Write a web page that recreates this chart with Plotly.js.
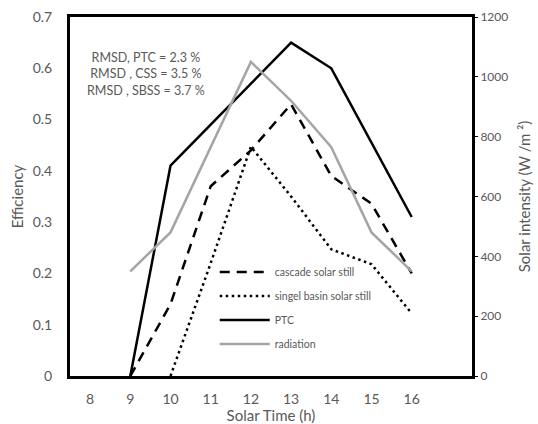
<!DOCTYPE html>
<html>
<head>
<meta charset="utf-8">
<script src="https://cdn.plot.ly/plotly-3.0.1.min.js"></script>
<style>html,body{margin:0;padding:0;background:#fff}#chart{width:538px;height:424px}</style>
</head>
<body>
<div id="chart"></div>
<script>
// Data
const hoursAll = [8, 9, 10, 11, 12, 13, 14, 15, 16];
const hours = [9, 10, 11, 12, 13, 14, 15, 16];
const cascadeEff = [0, 0.14, 0.37, 0.44, 0.53, 0.39, 0.336, 0.20];
const singelHours = [10, 11, 12, 13, 14, 15, 16];
const singelEff = [0, 0.22, 0.447, 0.35, 0.247, 0.218, 0.122];
const ptcEff = [0, 0.41, 0.49, 0.57, 0.65, 0.60, 0.455, 0.31];
const radiation = [350, 480, 765, 1050, 920, 765, 480, 350];
const rmsdLines = ["RMSD, PTC = 2.3 %", "RMSD , CSS = 3.5 %", "RMSD , SBSS = 3.7 %"];

const FONT = "Lato, 'Open Sans', sans-serif";
const GREY = "#595959";

const traces = [
  {x: hours, y: cascadeEff, name: "cascade solar still", mode: "lines", legendgroup: "a",
   line: {color: "#000", width: 2.5, dash: "10px,7px"}},
  {x: singelHours, y: singelEff, name: "singel basin solar still", mode: "lines", legendgroup: "b",
   line: {color: "#000", width: 2.5, dash: "2.5px,3.5px"}},
  {x: hours, y: ptcEff, name: "PTC", mode: "lines", legendgroup: "c",
   line: {color: "#000", width: 2.5}},
  {x: hours, y: radiation, name: "radiation", mode: "lines", yaxis: "y2", legendgroup: "d",
   line: {color: "#a5a5a5", width: 2.5}}
];

const layout = {
  width: 538, height: 424,
  margin: {l: 70, r: 66, t: 17, b: 48},
  paper_bgcolor: "#fff", plot_bgcolor: "#fff",
  font: {family: FONT, color: GREY, size: 13},
  showlegend: true,
  legend: {x: 0.36, y: 0.33, xanchor: "left", yanchor: "top", bgcolor: "rgba(0,0,0,0)",
           font: {size: 10.5, color: GREY}, tracegroupgap: 5, itemwidth: 50},
  xaxis: {range: [7.5, 17.5], tickvals: hoursAll, ticktext: hoursAll.map(String),
          showgrid: false, zeroline: false, showline: true, linecolor: "#000", linewidth: 3,
          mirror: true, ticks: "", ticklabelstandoff: 8, tickfont: {size: 14, color: GREY},
          title: {text: "Solar Time (h)", font: {size: 15, color: GREY}, standoff: 0}},
  yaxis: {range: [0, 0.7], dtick: 0.1, tick0: 0, showgrid: false, zeroline: false,
          showline: true, linecolor: "#000", linewidth: 3, mirror: true, ticks: "",
          ticklabelstandoff: 12, tickfont: {size: 14, color: GREY},
          title: {text: "Efficiency", font: {size: 15, color: GREY}, standoff: 6}},
  yaxis2: {overlaying: "y", side: "right", range: [0, 1200], dtick: 200, tick0: 0,
           showgrid: false, zeroline: false, showline: false, ticks: "outside", ticklen: 5,
           tickcolor: "#000", tickwidth: 1, tickfont: {size: 12, color: GREY},
           title: {text: "Solar intensity (W /m ²)", font: {size: 15, color: GREY}, standoff: 12}},
  annotations: [{xref: "paper", yref: "paper", x: 0.19, y: 0.913, xanchor: "center", yanchor: "top",
                 text: rmsdLines.join("<br>"), showarrow: false, align: "center",
                 font: {size: 12.5, color: GREY}}]
};

Plotly.newPlot("chart", traces, layout, {displayModeBar: false, staticPlot: true});
</script>
</body>
</html>
